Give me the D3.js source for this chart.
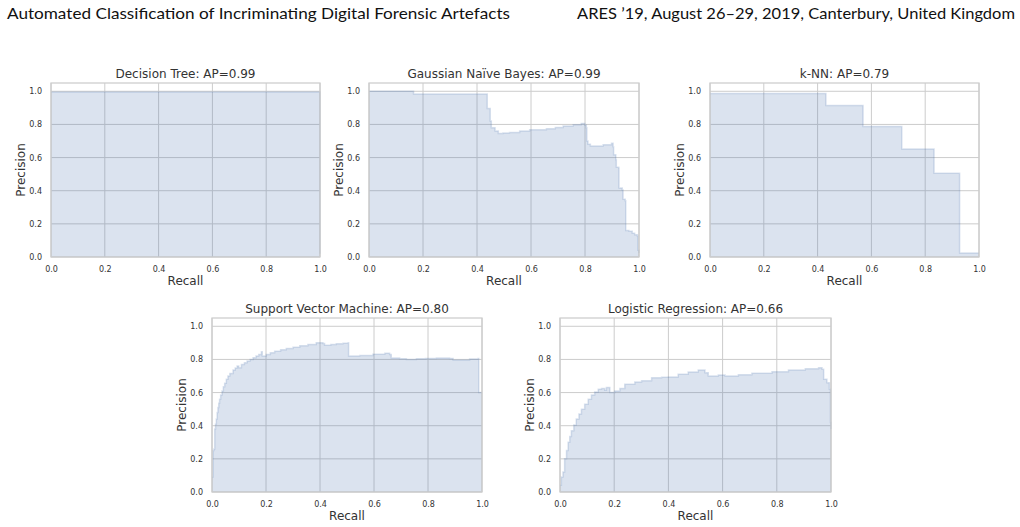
<!DOCTYPE html>
<html>
<head>
<meta charset="utf-8">
<script src="https://cdn.jsdelivr.net/npm/d3@7"></script>
<style>
  body { margin: 0; background: #fff; }
  svg { display: block; }
</style>
</head>
<body>
<div id="chart"></div>
<script>
// Set dimensions
const width = 1020,
    height = 527;

// Header texts
const headerLeft = "Automated Classification of Incriminating Digital Forensic Artefacts";
const headerRight = "ARES ’19, August 26–29, 2019, Canterbury, United Kingdom";

// Panel titles
const titles = [
    "Decision Tree: AP=0.99",
    "Gaussian Naïve Bayes: AP=0.99",
    "k-NN: AP=0.79",
    "Support Vector Machine: AP=0.80",
    "Logistic Regression: AP=0.66"
];

// Tick values
const tickValues = [0, 0.2, 0.4, 0.6, 0.8, 1.0];

// Curves as [recall, precision] (step "post")
const dtCurve = [[0, 0.995], [1.0, 0.02]];

const gnbCurve = [
    [0, 1.0], [0.165, 0.983], [0.438, 0.896], [0.449, 0.82], [0.453, 0.78],
    [0.467, 0.76], [0.479, 0.745], [0.496, 0.748], [0.52, 0.752], [0.558, 0.76],
    [0.595, 0.768], [0.657, 0.774], [0.69, 0.782], [0.719, 0.79], [0.756, 0.798],
    [0.786, 0.806], [0.799, 0.796], [0.805, 0.78], [0.807, 0.70], [0.811, 0.68],
    [0.820, 0.67], [0.867, 0.677], [0.898, 0.686], [0.904, 0.665], [0.906, 0.617],
    [0.914, 0.587], [0.916, 0.541], [0.925, 0.537], [0.926, 0.417], [0.938, 0.405],
    [0.941, 0.349], [0.949, 0.34], [0.951, 0.16], [0.963, 0.156], [0.975, 0.144],
    [0.984, 0.134], [0.994, 0.126], [0.996, 0.04], [1.0, 0.024]
];

const knnCurve = [
    [0, 0.986], [0.431, 0.914], [0.569, 0.788], [0.713, 0.651],
    [0.833, 0.505], [0.928, 0.024], [1.0, 0.024]
];

const svmCurve = [
    [0, 0.09], [0.004, 0.25], [0.007, 0.26], [0.010, 0.38], [0.013, 0.41],
    [0.016, 0.44], [0.019, 0.48], [0.022, 0.51], [0.025, 0.535], [0.028, 0.56],
    [0.032, 0.585], [0.037, 0.61], [0.042, 0.635], [0.047, 0.656], [0.053, 0.68],
    [0.059, 0.70], [0.066, 0.715], [0.078, 0.736], [0.086, 0.748], [0.093, 0.76],
    [0.099, 0.75], [0.109, 0.77], [0.120, 0.78], [0.130, 0.79], [0.141, 0.80],
    [0.152, 0.81], [0.163, 0.82], [0.173, 0.83], [0.183, 0.846], [0.186, 0.82],
    [0.201, 0.83], [0.216, 0.84], [0.232, 0.85], [0.254, 0.858], [0.275, 0.866],
    [0.300, 0.874], [0.325, 0.882], [0.355, 0.89], [0.386, 0.90], [0.411, 0.896],
    [0.417, 0.886], [0.440, 0.89], [0.460, 0.894], [0.485, 0.897], [0.504, 0.90],
    [0.506, 0.82], [0.547, 0.824], [0.596, 0.832], [0.640, 0.838], [0.658, 0.83],
    [0.664, 0.808], [0.695, 0.804], [0.720, 0.80], [0.757, 0.804], [0.790, 0.806],
    [0.831, 0.808], [0.880, 0.806], [0.893, 0.796], [0.954, 0.802], [0.985, 0.806],
    [0.988, 0.60], [1.0, 0.60]
];

const lrCurve = [
    [0, 0.04], [0.005, 0.09], [0.011, 0.12], [0.017, 0.20], [0.024, 0.25],
    [0.030, 0.30], [0.036, 0.335], [0.042, 0.37], [0.051, 0.405], [0.060, 0.44],
    [0.070, 0.47], [0.079, 0.50], [0.091, 0.53], [0.104, 0.56], [0.116, 0.585],
    [0.128, 0.604], [0.141, 0.62], [0.153, 0.624], [0.165, 0.614], [0.171, 0.63],
    [0.184, 0.60], [0.202, 0.61], [0.221, 0.624], [0.239, 0.65], [0.276, 0.664],
    [0.301, 0.672], [0.338, 0.69], [0.375, 0.692], [0.400, 0.694], [0.436, 0.71],
    [0.473, 0.724], [0.510, 0.736], [0.535, 0.72], [0.547, 0.70], [0.584, 0.706],
    [0.609, 0.70], [0.658, 0.708], [0.708, 0.716], [0.782, 0.726], [0.843, 0.736],
    [0.905, 0.744], [0.954, 0.75], [0.967, 0.74], [0.973, 0.68], [0.985, 0.66],
    [0.994, 0.62], [0.998, 0.42], [1.0, 0.38]
];

const curves = [dtCurve, gnbCurve, knnCurve, svmCurve, lrCurve];

// Panel boxes (pixels)
const panels = [
    {left: 51, right: 320, top: 83, bottom: 257},
    {left: 369, right: 639, top: 83, bottom: 257},
    {left: 710, right: 979, top: 83, bottom: 257},
    {left: 212, right: 482, top: 318, bottom: 492},
    {left: 560, right: 831, top: 318, bottom: 492}
];

const blue = "#4c72b0",
    gridColor = "#cccccc",
    textColor = "#333";

// Append SVG
const svg = d3.select("#chart")
    .append("svg")
    .attr("width", width)
    .attr("height", height);

// Page header
svg.append("text")
    .attr("x", 7)
    .attr("y", 19)
    .attr("textLength", 503)
    .attr("lengthAdjust", "spacingAndGlyphs")
    .style("font-family", "Lato, 'Open Sans', sans-serif")
    .style("font-size", "16px")
    .style("fill", "#111")
    .text(headerLeft);

svg.append("text")
    .attr("x", 1015)
    .attr("y", 19)
    .attr("text-anchor", "end")
    .attr("textLength", 438)
    .attr("lengthAdjust", "spacingAndGlyphs")
    .style("font-family", "Lato, 'Open Sans', sans-serif")
    .style("font-size", "16px")
    .style("fill", "#111")
    .text(headerRight);

// Draw one PR panel
function drawPanel(box, data, title) {
    const w = box.right - box.left,
        h = box.bottom - box.top;

    const g = svg.append("g")
        .attr("transform", `translate(${box.left}, ${box.top})`);

    const x = d3.scaleLinear().domain([0, 1]).range([0, w]);
    const y = d3.scaleLinear().domain([0, 1.05]).range([h, 0]);

    // Grid
    g.append("g")
        .selectAll("line")
        .data(tickValues)
        .enter()
        .append("line")
        .attr("x1", d => x(d))
        .attr("x2", d => x(d))
        .attr("y1", 0)
        .attr("y2", h)
        .attr("stroke", gridColor)
        .attr("stroke-width", 1);

    g.append("g")
        .selectAll("line")
        .data(tickValues)
        .enter()
        .append("line")
        .attr("x1", 0)
        .attr("x2", w)
        .attr("y1", d => y(d))
        .attr("y2", d => y(d))
        .attr("stroke", gridColor)
        .attr("stroke-width", 1);

    // Fill and step line
    const area = d3.area()
        .curve(d3.curveStepAfter)
        .x(d => x(d[0]))
        .y0(y(0))
        .y1(d => y(d[1]));

    const line = d3.line()
        .curve(d3.curveStepAfter)
        .x(d => x(d[0]))
        .y(d => y(d[1]));

    g.append("path")
        .datum(data)
        .attr("d", area)
        .attr("fill", blue)
        .attr("fill-opacity", 0.2);

    g.append("path")
        .datum(data)
        .attr("d", line)
        .attr("fill", "none")
        .attr("stroke", blue)
        .attr("stroke-opacity", 0.2)
        .attr("stroke-width", 1.5);

    // Frame
    g.append("rect")
        .attr("width", w)
        .attr("height", h)
        .attr("fill", "none")
        .attr("stroke", gridColor)
        .attr("stroke-width", 1.25);

    // X-axis
    const xAxis = g.append("g")
        .attr("transform", `translate(0,${h})`)
        .call(d3.axisBottom(x).tickValues(tickValues).tickFormat(d3.format(".1f")).tickSize(0).tickPadding(9));

    // Y-axis
    const yAxis = g.append("g")
        .call(d3.axisLeft(y).tickValues(tickValues).tickFormat(d3.format(".1f")).tickSize(0).tickPadding(9));

    [xAxis, yAxis].forEach(a => {
        a.select(".domain").remove();
        a.selectAll("text")
            .style("font-family", "'DejaVu Sans', sans-serif")
            .style("font-size", "8px")
            .style("fill", textColor);
    });

    // Axis labels
    g.append("text")
        .attr("x", w / 2)
        .attr("y", h + 28)
        .attr("text-anchor", "middle")
        .style("font-family", "'DejaVu Sans', sans-serif")
        .style("font-size", "12px")
        .style("fill", textColor)
        .text("Recall");

    g.append("text")
        .attr("transform", "rotate(-90)")
        .attr("x", -h / 2)
        .attr("y", -26)
        .attr("text-anchor", "middle")
        .style("font-family", "'DejaVu Sans', sans-serif")
        .style("font-size", "12px")
        .style("fill", textColor)
        .text("Precision");

    // Title
    g.append("text")
        .attr("x", w / 2)
        .attr("y", -5)
        .attr("text-anchor", "middle")
        .style("font-family", "'DejaVu Sans', sans-serif")
        .style("font-size", "12px")
        .style("fill", textColor)
        .text(title);
}

panels.forEach((box, i) => drawPanel(box, curves[i], titles[i]));
</script>
</body>
</html>
